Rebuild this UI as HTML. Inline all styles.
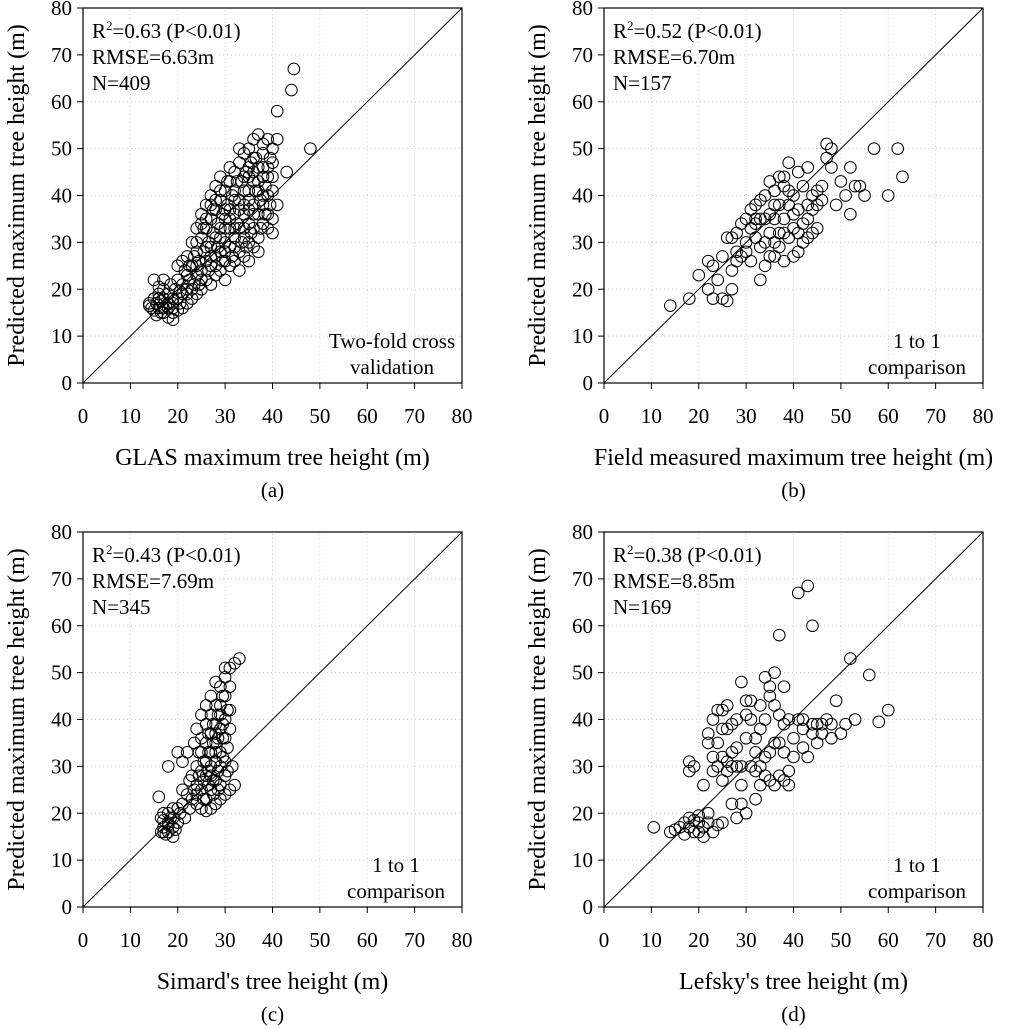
<!DOCTYPE html>
<html><head><meta charset="utf-8">
<style>
html,body{margin:0;padding:0;background:#fff;}
svg{display:block;font-family:"Liberation Serif",serif;}
</style></head>
<body>
<svg id="fig" width="1024" height="1029" viewBox="0 0 1024 1029" xmlns="http://www.w3.org/2000/svg"></svg>
<script>
const ticks = [0,10,20,30,40,50,60,70,80];
const pointsA = [
[14,17],[14.5,16],[15,18],[15,15.5],[15.5,17],[16,16],[16,19],[16.5,17.5],[17,15],[17,18],[17,20],[17.5,16.5],[18,17],[18,19],[18,14],[18.5,21],[19,16],[19,18],[19,13.5],[19.5,20],[15,22],[16,20.5],[14,16.5],[15.5,14.5],[16.5,15],[17,16],[18,16],[20,15.5],[20,18],[20,22],[20.5,17],[21,19],[21,16],[21.5,24],[22,20],[22,17],[22,27],[22.5,22],[23,18],[23,25],[23,30],[23.5,21],[24,19],[24,23],[24,28],[24,33],[24.5,26],[25,20],[25,24],[25,31],[25,36],[25.5,28],[26,22],[26,26],[26,33],[26,38],[26.5,30],[27,21],[27,25],[27,29],[27,35],[27,40],[27.5,32],[28,23],[28,27],[28,31],[28,37],[28,42],[28.5,34],[29,24],[29,28],[29,33],[29,39],[29,44],[29.5,36],[30,22],[30,26],[30,30],[30,35],[30,41],[30.5,38],[31,25],[31,29],[31,33],[31,37],[31,43],[31.5,40],[32,26],[32,31],[32,36],[32,41],[32,45],[32.5,34],[33,24],[33,28],[33,33],[33,39],[33,47],[33.5,43],[34,27],[34,31],[34,36],[34,41],[34,49],[34.5,45],[35,26],[35,30],[35,34],[35,39],[35,44],[35,50],[35.5,47],[36,29],[36,33],[36,38],[36,43],[36,52],[36.5,48],[37,31],[37,36],[37,41],[37,46],[37,53],[37.5,39],[38,34],[38,38],[38,44],[38,49],[38.5,42],[39,36],[39,40],[39,46],[39,52],[39.5,48],[40,32],[40,35],[40,41],[40,44],[40,50],[41,58],[41,52],[41,38],[43,45],[44,62.5],[44.5,67],[48,50],[29,31],[31,35],[33,37],[35,41],[26,29],[28,25],[30,33],[32,29],[34,33],[36,36],[38,40],[27,27],[25,22],[23,20],[21,21],[19,17],[36,45],[34,38],[32,39],[30,37],[24,30],[22,23],[37,43],[39,44],[38,46],[35,37],
[22.5,25],[23.5,27],[24.5,21],[25.5,33],[26.5,24],[27.5,37],[28.5,29],[29.5,26],[30.5,43],[31.5,27],[32.5,43],[33.5,30],[34.5,29],[35.5,32],[36.5,41],[37.5,33],[38.5,36],[39.5,38],[33,50],[31,46],[29,41],[27,38],[25,34],[21,26],[20,25],[17,22],[16,18],[19,15],[20.5,19.5],[22,19],[24,25],[26,35],[28,39],[30,28],[32,33],[34,44],[36,48],[38,51],[40,47],[39,33],[37,28],[35,46]
];
const pointsB = [
[14,16.5],[18,18],[20,23],[22,20],[22,26],[23,18],[23,25],[24,22],[25,18],[25,27],[26,17.5],[26,31],[27,24],[27,20],[28,26],[28,32],[29,27],[30,30],[30,35],[31,26],[31,33],[32,38],[32,31],[33,22],[33,29],[33,35],[34,40],[34,30],[35,36],[35,27],[36,38],[36,41],[37,32],[37,29],[38,44],[38,35],[38,26],[39,47],[39,31],[40,33],[40,40],[40,27],[41,45],[41,37],[41,32],[42,42],[42,30],[43,38],[43,35],[44,32],[44,40],[45,38],[45,41],[46,39],[47,48],[47,51],[48,50],[48,46],[49,38],[50,43],[51,40],[52,46],[52,36],[53,42],[54,42],[55,40],[57,50],[60,40],[62,50],[63,44],[36,35],[34,25],[32,35],[30,28],[29,34],[35,43],[37,44],[39,41],[43,46],[45,33],[31,37],[33,39],[36,30],[38,32],[40,36],[42,34],[44,37],[46,42],[27,31],[28,28],[34,35],[36,27],[39,38],[41,28],[43,31],[32,34],[35,32],[37,38],[38,42]
];
const pointsC = [
[16,23.5],[16.5,19],[16.5,16],[17,17],[17,20],[17.5,15.5],[18,18],[18,16],[18,30],[18.5,19],[19,15],[19,17],[19,21],[19.5,16.5],[20,18],[20,33],[20.5,20],[21,31],[21,22],[21.5,19],[22,33],[22,24],[22.5,21],[23,28],[23,23],[23.5,35],[24,26],[24,22],[24,30],[24,38],[24.5,33],[25,21],[25,25],[25,29],[25,36],[25,41],[25.5,27],[26,23],[26,31],[26,35],[26,39],[26,43],[26.5,26],[27,21],[27,28],[27,33],[27,37],[27,41],[27,45],[27.5,24],[28,22],[28,27],[28,31],[28,35],[28,39],[28,43],[28,48],[28.5,29],[29,23],[29,26],[29,33],[29,38],[29,41],[29,47],[29.5,36],[30,24],[30,28],[30,31],[30,40],[30,45],[30,51],[30.5,34],[31,25],[31,38],[31,42],[31,51],[32,26],[32,52],[33,53],[31.5,30],[26,20.5],[27,25],[28,33],[29,30],[24,24],[25,33],[26,28],[27,30],[28,37],[29,43],[30,36],[17,18.5],[18,17.5],[19,19],
[25.5,31],[26.5,37],[27.5,39],[28.5,41],[29.5,45],[26.5,33],[27.5,35],[28.5,25],[29.5,32],[30.5,29],[25.5,23],[26.5,29],[27.5,27],[28.5,36],[29.5,39],[30.5,42],[31,47],[30,49],[24.5,28],[23.5,25],[22.5,27],[21,25],[20,21],[18,20],[17,16]
];
const pointsD = [
[10.5,17],[14,16],[15,16.5],[16,17],[17,18],[17,15.5],[18,19],[18,17],[18,29],[18,31],[19,16],[19,18.5],[19,30],[20,18],[20,19.5],[20,16],[21,17],[21,26],[21,15],[22,18],[22,37],[22,35],[22,20],[23,16],[23,29],[23,32],[23,40],[24,17.5],[24,30],[24,35],[24,42],[25,18],[25,27],[25,32],[25,38],[25,42],[26,31],[26,29],[26,38],[26,43],[27,30],[27,33],[27,22],[28,30],[28,34],[28,40],[28,19],[29,48],[29,30],[29,26],[29,22],[30,41],[30,36],[30,20],[31,30],[31,40],[31,44],[32,29],[32,33],[32,36],[32,23],[33,38],[33,43],[33,26],[34,49],[34,32],[34,40],[34,28],[35,47],[35,33],[35,45],[35,27],[36,50],[36,43],[36,26],[37,58],[37,41],[37,35],[37,28],[38,47],[38,39],[38,27],[38,33],[39,40],[39,26],[40,36],[40,32],[41,67],[41,40],[42,38],[42,34],[43,68.5],[43,32],[44,60],[44,37],[44,39],[45,35],[46,39],[46,37],[47,40],[48,36],[49,44],[50,37],[51,39],[52,53],[53,40],[56,49.5],[58,39.5],[60,42],[27,39],[30,44],[33,30],[36,35],[39,29],[42,40],[45,39],[48,39]
];
const panels = [
 {id:'a', pts:pointsA, x0:83, y0:383, xlabel:'GLAS maximum tree height (m)', r2:'0.63', rmse:'6.63', n:'409', note:['Two-fold cross','validation'], noteX:392},
 {id:'b', pts:pointsB, x0:604, y0:383, xlabel:'Field measured maximum tree height (m)', r2:'0.52', rmse:'6.70', n:'157', note:['1 to 1','comparison'], noteX:917},
 {id:'c', pts:pointsC, x0:83, y0:907, xlabel:"Simard's tree height (m)", r2:'0.43', rmse:'7.69', n:'345', note:['1 to 1','comparison'], noteX:396},
 {id:'d', pts:pointsD, x0:604, y0:907, xlabel:"Lefsky's tree height (m)", r2:'0.38', rmse:'8.85', n:'169', note:['1 to 1','comparison'], noteX:917}
];
const W = 379, H = 375;
const NS = 'http://www.w3.org/2000/svg';
const svg = document.getElementById('fig');
function mk(tag, attrs, parent, text){
  const e = document.createElementNS(NS, tag);
  for (const k in attrs) e.setAttribute(k, attrs[k]);
  if (text !== undefined) e.textContent = text;
  parent.appendChild(e); return e;
}
panels.forEach(p => {
  const sx = v => p.x0 + v / 80 * W;
  const sy = v => p.y0 - v / 80 * H;
  const g = mk('g', {}, svg);
  
  
  ticks.forEach(t => {
    if (t > 0 && t < 80) {
      mk('line', {x1:sx(t), x2:sx(t), y1:sy(0), y2:sy(80), stroke:'#ccc', 'stroke-width':1, 'stroke-dasharray':'1,3'}, g);
      mk('line', {x1:sx(0), x2:sx(80), y1:sy(t), y2:sy(t), stroke:'#ccc', 'stroke-width':1, 'stroke-dasharray':'1,3'}, g);
    }
  });
  const frame = mk('rect', {x:sx(0), y:sy(80), width:W, height:H, fill:'none', stroke:'#000', 'stroke-width':1.2}, g);
  
  
  const one = mk('line', {x1:sx(0), y1:sy(0), x2:sx(80), y2:sy(80), stroke:'#000', 'stroke-width':1}, g);
  
  
  ticks.forEach(t => {
    mk('line', {x1:sx(t), x2:sx(t), y1:sy(0), y2:sy(0)+6, stroke:'#000'}, g);
    mk('line', {x1:sx(0)-6, x2:sx(0), y1:sy(t), y2:sy(t), stroke:'#000'}, g);
    const xt = mk('text', {x:sx(t), y:sy(0)+40, 'font-size':21, 'text-anchor':'middle'}, g, t);
    
    
    const yt = mk('text', {x:sx(0)-11, y:sy(t)+7, 'font-size':21, 'text-anchor':'end'}, g, t);
    
    
  });
  p.pts.forEach(pt => {
    const c = mk('circle', {cx:sx(pt[0]), cy:sy(pt[1]), r:5.8, fill:'none', stroke:'#000', 'stroke-width':1}, g);
    
    
  });
  const xl = mk('text', {x:sx(40), y:sy(0)+82, 'font-size':24, 'text-anchor':'middle'}, g, p.xlabel);
  
  
  const cy = sy(40);
  const yl = mk('text', {x:0, y:0, 'font-size':24, 'text-anchor':'middle', transform:'translate(' + (p.x0-59) + ',' + cy + ') rotate(-90)'}, g, 'Predicted maximum tree height (m)');
  
  
  const cap = mk('text', {x:sx(40), y:sy(0)+114, 'font-size':21, 'text-anchor':'middle'}, g, '(' + p.id + ')');
  
  
  const st = mk('text', {x:sx(0)+9, y:sy(80)+30, 'font-size':21}, g);
  
  
  mk('tspan', {}, st, 'R');
  mk('tspan', {dy:-8, 'font-size':13}, st, '2');
  mk('tspan', {dy:8}, st, '=' + p.r2 + ' (P<0.01)');
  const rm = mk('text', {x:sx(0)+9, y:sy(80)+56, 'font-size':21}, g, 'RMSE=' + p.rmse + 'm');
  
  
  const nn = mk('text', {x:sx(0)+9, y:sy(80)+82, 'font-size':21}, g, 'N=' + p.n);
  
  
  p.note.forEach((s, i) => {
    const tx = mk('text', {x:p.noteX, y:sy(0)-35+i*26, 'font-size':21, 'text-anchor':'middle'}, g, s);
    
    
  });
});
</script>
</body></html>
